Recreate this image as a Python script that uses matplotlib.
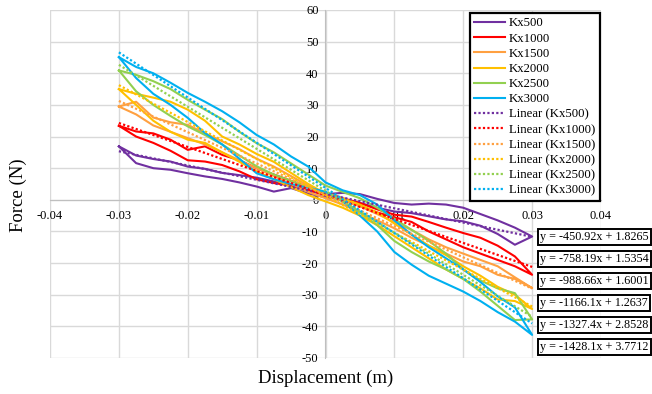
import matplotlib
matplotlib.use("Agg")
import matplotlib.pyplot as plt
import numpy as np

plt.rcParams['font.family'] = ['Liberation Serif', 'DejaVu Serif']
plt.rcParams['axes.unicode_minus'] = False

# displacement grid (m) used by every loop branch
disp = [-0.03, -0.0275, -0.025, -0.0225, -0.02, -0.0175, -0.015, -0.0125, -0.01,
        -0.0075, -0.005, -0.0025, 0.0, 0.0025, 0.005, 0.0075, 0.01, 0.0125,
        0.015, 0.0175, 0.02, 0.0225, 0.025, 0.0275, 0.03]

series_names = ['Kx500', 'Kx1000', 'Kx1500', 'Kx2000', 'Kx2500', 'Kx3000']
series_colors = ['#7030A0', '#FF0000', '#FFA040', '#FFC000', '#92D050', '#00B0F0']

# force (N) going right, listed from x=-0.03 to x=0.03
kx500_out = [16.9, 14.0, 12.9, 12.1, 10.5, 9.8, 8.5, 7.8, 7.0, 5.8, 4.5, 3.0, 1.8,
             2.2, 1.8, 0.3, -1.0, -1.5, -1.2, -1.5, -2.5, -4.5, -6.5, -8.8, -11.6]
kx1000_out = [23.4, 21.6, 21.0, 19.0, 15.8, 16.9, 14.2, 12.5, 10.0, 8.0, 6.0, 4.0, 2.0,
              0.5, -1.0, -3.0, -4.7, -5.3, -7.0, -8.8, -10.5, -12.0, -14.5, -17.9, -23.7]
kx1500_out = [29.5, 31.0, 26.0, 24.5, 23.7, 21.0, 18.5, 16.0, 13.0, 10.5, 7.5, 4.5, 2.0,
              0.0, -2.0, -4.5, -7.0, -9.5, -12.5, -15.0, -17.0, -19.0, -21.0, -24.5, -27.9]
kx2000_out = [35.0, 33.5, 32.3, 31.0, 28.5, 25.0, 20.0, 17.5, 14.5, 12.0, 8.5, 5.0, 2.0,
              0.5, -1.5, -4.0, -7.5, -11.0, -14.5, -17.5, -21.0, -24.0, -27.5, -30.0, -34.5]
kx2500_out = [40.9, 39.5, 37.5, 35.0, 31.6, 28.5, 25.5, 21.5, 17.9, 15.0, 11.5, 8.0, 4.5,
              2.5, 0.5, -2.5, -6.0, -9.5, -13.0, -17.0, -22.0, -25.5, -28.0, -29.5, -37.8]
kx3000_out = [45.1, 42.0, 40.0, 37.0, 33.8, 31.0, 28.0, 24.5, 20.5, 17.5, 13.7, 10.5, 5.5,
              3.0, 1.5, -1.5, -6.5, -11.0, -15.0, -18.5, -22.0, -26.0, -30.5, -34.0, -42.7]

# force (N) coming back, listed from x=0.03 to x=-0.03
kx500_back = [-11.6, -14.2, -10.8, -8.2, -6.8, -6.2, -5.2, -4.2, -3.7, -2.5, -1.0, 0.2, 0.8,
              2.0, 3.7, 2.6, 4.2, 5.5, 6.6, 7.4, 8.4, 9.5, 10.0, 11.6, 16.9]
kx1000_back = [-23.7, -21.0, -19.0, -17.0, -15.0, -12.5, -10.0, -7.0, -5.5, -4.0, -2.0, 0.0, 1.5,
               3.0, 4.5, 5.3, 6.5, 9.0, 11.0, 12.1, 12.5, 15.5, 18.0, 20.0, 23.4]
kx1500_back = [-27.9, -25.0, -23.7, -21.0, -19.5, -17.0, -14.5, -12.0, -9.0, -6.5, -4.0, -1.5, 0.5,
               2.5, 5.0, 7.5, 10.0, 12.5, 15.0, 17.5, 19.5, 21.5, 23.5, 27.0, 29.5]
kx2000_back = [-34.5, -32.0, -31.5, -28.0, -25.0, -22.0, -18.5, -15.0, -11.5, -8.0, -5.0, -2.5, -0.5,
               1.5, 4.0, 6.5, 9.0, 12.0, 15.0, 18.0, 19.0, 21.5, 25.0, 30.0, 35.0]
kx2500_back = [-37.8, -38.0, -33.5, -29.0, -25.0, -22.0, -19.5, -16.5, -13.0, -8.0, -4.0, -0.5, 2.0,
               4.0, 6.0, 8.0, 10.6, 14.0, 17.5, 20.5, 23.2, 26.5, 30.0, 34.3, 40.9]
kx3000_back = [-42.7, -38.5, -35.5, -32.0, -29.0, -26.5, -24.0, -20.5, -16.5, -10.0, -5.0, -0.5, 2.6,
               3.8, 5.0, 6.5, 8.4, 13.0, 17.5, 21.1, 25.9, 30.0, 33.5, 38.5, 45.1]

# linear trendline coefficients shown on the chart
slopes = [-450.92, -758.19, -988.66, -1166.1, -1327.4, -1428.1]
intercepts = [1.8265, 1.5354, 1.6001, 1.2637, 2.8528, 3.7712]
equations = ['y = -450.92x + 1.8265', 'y = -758.19x + 1.5354', 'y = -988.66x + 1.6001',
             'y = -1166.1x + 1.2637', 'y = -1327.4x + 2.8528', 'y = -1428.1x + 3.7712']

outs = [kx500_out, kx1000_out, kx1500_out, kx2000_out, kx2500_out, kx3000_out]
backs = [kx500_back, kx1000_back, kx1500_back, kx2000_back, kx2500_back, kx3000_back]

fig = plt.figure(figsize=(6.52, 3.94), dpi=100)
ax = fig.add_axes([50/652, 36/394, 551/652, 348/394])

x_out = np.array(disp)
x_back = x_out[::-1]
for name, col, fo, fb in zip(series_names, series_colors, outs, backs):
    ax.plot(np.concatenate([x_out, x_back]), np.concatenate([fo, fb]),
            color=col, lw=1.5, label=name, zorder=3)
xr = np.array([min(disp), max(disp)])
for name, col, a, b in zip(series_names, series_colors, slopes, intercepts):
    ax.plot(xr, a * xr + b, color=col, lw=1.6, ls=(0, (1, 1)),
            label='Linear (%s)' % name, zorder=4)

ax.set_xlim(-0.04, 0.04)
ax.set_ylim(-50, 60)
ax.set_xticks(np.arange(-0.04, 0.0401, 0.01))
ax.set_yticks(np.arange(-50, 61, 10))
ax.set_xticklabels(['-0.04', '-0.03', '-0.02', '-0.01', '0', '0.01', '0.02', '0.03', '0.04'])
ax.set_yticklabels([str(v) for v in range(-50, 61, 10)])
ax.grid(True, color='#D9D9D9', lw=1.0, zorder=0)
for gl in ax.get_xgridlines() + ax.get_ygridlines():
    gl.set_clip_on(False)
ax.set_axisbelow(True)

for s in ['top', 'right']:
    ax.spines[s].set_visible(False)
ax.spines['left'].set_position(('data', 0))
ax.spines['bottom'].set_position(('data', 0))
ax.spines['left'].set_color('#BFBFBF')
ax.spines['bottom'].set_color('#BFBFBF')
ax.tick_params(length=0, labelsize=9, colors='black')
ax.tick_params(axis='y', pad=5)
ax.tick_params(axis='x', pad=7)

fig.text(18/652, 1 - 195/394, 'Force (N)', rotation=90, ha='center', va='center', fontsize=13.5)
fig.text(326/652, 1 - 378/394, 'Displacement (m)', ha='center', va='center', fontsize=13.5)

leg = ax.legend(loc='upper left', bbox_to_anchor=(470/652, 1 - 13/394),
                bbox_transform=fig.transFigure, borderaxespad=0, fontsize=9.2,
                fancybox=False, framealpha=1, edgecolor='black', handlelength=2.4,
                handletextpad=0.3, labelspacing=0.25, borderpad=0.35)
leg.get_frame().set_linewidth(1.6)
leg.set_zorder(10)

for i, eq in enumerate(equations):
    fig.text(540/652, 1 - (237 + 22 * i)/394, eq, ha='left', va='center', fontsize=8.7,
             bbox=dict(boxstyle='square,pad=0.2', fc='white', ec='black', lw=1.4), zorder=11)

fig.savefig('out.png', dpi=100)
